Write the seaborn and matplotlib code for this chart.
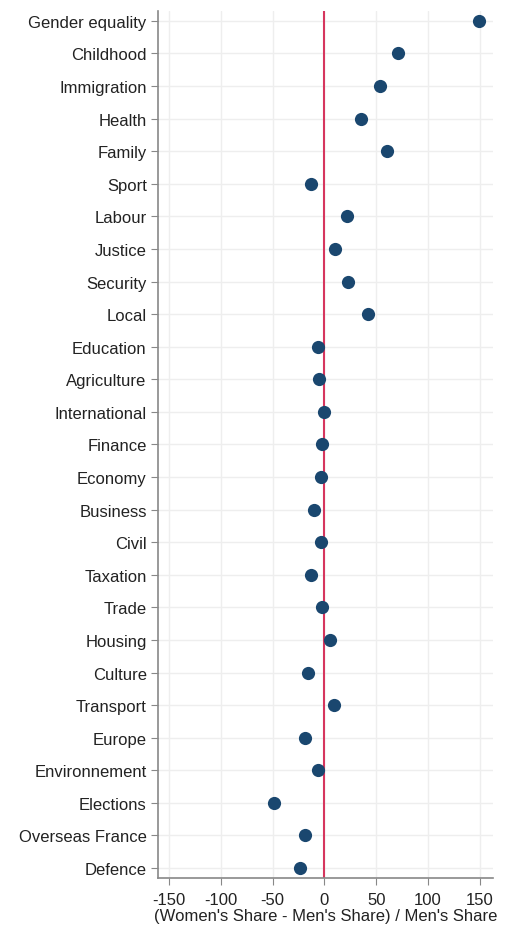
import pandas as pd
import matplotlib.pyplot as plt
import seaborn as sns

# Topics, top to bottom
topics = ["Gender equality", "Childhood", "Immigration", "Health", "Family",
          "Sport", "Labour", "Justice", "Security", "Local", "Education",
          "Agriculture", "International", "Finance", "Economy", "Business",
          "Civil", "Taxation", "Trade", "Housing", "Culture", "Transport",
          "Europe", "Environnement", "Elections", "Overseas France", "Defence"]

# (Women's share - Men's share) / Men's share
gap = [149, 71.5, 53.5, 35.5, 60, -13, 22, 10.5, 23, 42.5, -6, -5,
       -0.5, -2, -3.5, -10.5, -3.5, -13, -2, 5, -16, 9.5, -19, -6,
       -48.5, -19, -24]

xticks = [-150, -100, -50, 0, 50, 100, 150]

df = pd.DataFrame({"topic": topics, "gap": gap})

sns.set_style("white")
plt.rcParams["font.family"] = ["Liberation Sans", "DejaVu Sans"]

fig = plt.figure(figsize=(5.09, 9.29), dpi=100)
ax = fig.add_axes([0.31, 0.054, 0.659, 0.933])

ax.axvline(0, color="#d6365e", linewidth=1.5, zorder=2)

sns.stripplot(data=df, x="gap", y="topic", order=topics, jitter=False,
              color="#1a476f", size=9.5, linewidth=0, ax=ax, zorder=3)

# light Stata-like grid, both directions
ax.set_axisbelow(True)
ax.xaxis.grid(True, color="#eeeeee", linewidth=1)
ax.yaxis.grid(True, color="#eeeeee", linewidth=1)

ax.set_xlim(-161, 163)
ax.set_ylim(26.3, -0.3)
ax.set_xticks(xticks)
ax.set_xticklabels([str(t) for t in xticks])
ax.set_ylabel("")
ax.set_xlabel("(Women's Share - Men's Share) / Men's Share", fontsize=12,
              labelpad=1, color="#222222")
ax.tick_params(axis="both", labelsize=12, length=5, color="#888888",
               labelcolor="#222222", direction="out", left=True, bottom=True)
ax.tick_params(axis="x", pad=5)
ax.tick_params(axis="y", pad=3)

for side in ["top", "right"]:
    ax.spines[side].set_visible(False)
for side in ["left", "bottom"]:
    ax.spines[side].set_color("#888888")
    ax.spines[side].set_linewidth(1.2)

fig.savefig("out.png", dpi=100)
